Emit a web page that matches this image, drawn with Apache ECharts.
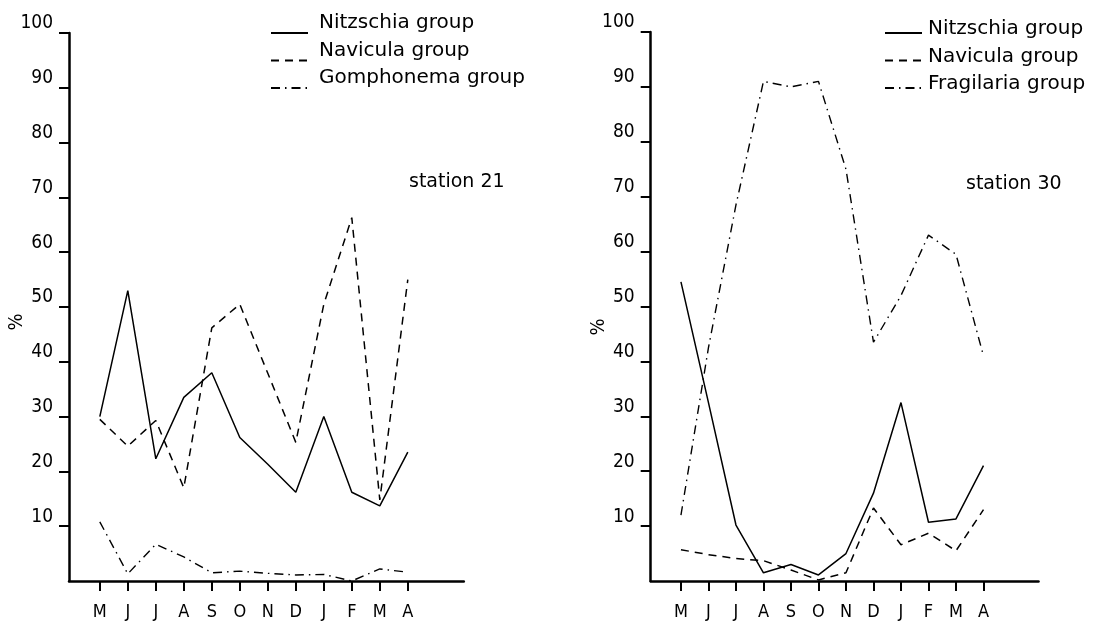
<!DOCTYPE html>
<html>
<head>
<meta charset="utf-8" />
<title>station 21 / station 30</title>
<script src="https://cdn.jsdelivr.net/npm/echarts@6/dist/echarts.min.js"></script>
<style>
  html, body { margin: 0; padding: 0; background: #fff; }
  #chart { width: 1108px; height: 621px; }
</style>
</head>
<body>
<div id="chart"></div>
<script>
// months May..April
var months = ['M', 'J', 'J', 'A', 'S', 'O', 'N', 'D', 'J', 'F', 'M', 'A'];
var monthIdx = [0, 1, 2, 3, 4, 5, 6, 7, 8, 9, 10, 11];
var yTicks = [10, 20, 30, 40, 50, 60, 70, 80, 90, 100];

// station 21
var st21Nitzschia = [30, 53, 22.3, 33.5, 38, 26.2, 21.3, 16.2, 30, 16.2, 13.7, 23.5];
var st21Navicula = [29.5, 24.6, 29.3, 17, 46.2, 50.5, 37.9, 25.3, 50.5, 66.3, 14.8, 55];
var st21Gomphonema = [10.8, 1.3, 6.7, 4.4, 1.5, 1.8, 1.4, 1.1, 1.2, 0, 2.2, 1.6];

// station 30
var st30Nitzschia = [54.5, 32.5, 10.2, 1.5, 3, 1.1, 5, 16, 32.5, 10.7, 11.3, 21];
var st30Navicula = [5.7, 4.8, 4.1, 3.7, 2, 0.2, 1.5, 13.3, 6.6, 8.7, 5.5, 13];
var st30Fragilaria = [12, 42.5, 68.5, 91, 90, 91, 75, 43.5, 52, 63, 59.5, 41];

var FONT = '"DejaVu Sans Condensed", "Liberation Sans Narrow", "DejaVu Sans", sans-serif';
var FONT_WIDE = '"DejaVu Sans", sans-serif';

function pairs(arr) {
	return arr.map(function (v, i) { return [monthIdx[i], v]; });
}

var solid = { color: '#000', width: 1.5, type: 'solid' };
var dashed = { color: '#000', width: 1.5, type: [8, 6] };
var dashDot = { color: '#000', width: 1.4, type: [9, 5, 1.5, 5] };

function xAxisFor(gridIndex) {
	return {
		type: 'value',
		gridIndex: gridIndex,
		min: -1.1,
		max: 13,
		splitLine: { show: false },
		axisLine: { show: true, lineStyle: { color: '#000', width: 2.5 } },
		axisTick: {
			show: true,
			customValues: monthIdx,
			length: 10,
			lineStyle: { color: '#000', width: 2 }
		},
		axisLabel: {
			customValues: monthIdx,
			formatter: function (v) { return months[Math.round(v)]; },
			margin: 22,
			color: '#000',
			fontFamily: FONT,
			fontSize: 18
		}
	};
}

function yAxisFor(gridIndex, margin) {
	return {
		type: 'value',
		gridIndex: gridIndex,
		min: 0,
		max: 100,
		interval: 10,
		splitLine: { show: false },
		axisLine: { show: true, onZero: false, lineStyle: { color: '#000', width: 2.5 } },
		axisTick: {
			show: true,
			customValues: yTicks,
			length: 10,
			lineStyle: { color: '#000', width: 2 }
		},
		axisLabel: {
			customValues: yTicks,
			margin: margin,
			verticalAlign: 'bottom',
			color: '#000',
			fontFamily: FONT,
			fontSize: 19
		}
	};
}

// lift = how far the text sits above its line sample
function legendFor(left, top, lift, textGap, names) {
	return {
		orient: 'vertical',
		left: left,
		top: top,
		padding: 0,
		itemWidth: 37,
		itemHeight: 14,
		itemGap: 7.5 - lift * 2,
		selectedMode: false,
		data: names,
		itemStyle: { opacity: 0 },
		formatter: function (name) { return '{t|' + name + '}'; },
		textStyle: {
			color: '#000',
			rich: {
				t: {
					color: '#000',
					fontFamily: FONT_WIDE,
					fontSize: 20,
					lineHeight: 20,
					padding: [0, 0, lift * 2, textGap]
				}
			}
		}
	};
}

function lineSeries(name, data, style, xi) {
	return {
		name: name,
		type: 'line',
		color: '#000',
		xAxisIndex: xi,
		yAxisIndex: xi,
		data: pairs(data),
		showSymbol: false,
		symbol: 'none',
		silent: true,
		lineStyle: style
	};
}

var chart = echarts.init(document.getElementById('chart'), null, { renderer: 'canvas' });
var option = {
	backgroundColor: '#fff',
	animation: false,
	title: [
		{ text: 'station 21', left: 404, top: 168, textStyle: { color: '#000', fontFamily: FONT_WIDE, fontSize: 19, fontWeight: 'normal' } },
		{ text: 'station 30', left: 961, top: 170, textStyle: { color: '#000', fontFamily: FONT_WIDE, fontSize: 19, fontWeight: 'normal' } }
	],
	legend: [
		legendFor(270, 13, 10, 6, ['Nitzschia group', 'Navicula group', 'Gomphonema group']),
		legendFor(884, 19, 4, 1, ['Nitzschia group', 'Navicula group', 'Fragilaria group'])
	],
	grid: [
		{ left: 69, width: 394.8, top: 33, bottom: 39 },
		{ left: 650.7, width: 387.8, top: 32, bottom: 38 }
	],
	xAxis: [xAxisFor(0), xAxisFor(1)],
	yAxis: [yAxisFor(0, 16), yAxisFor(1, 16)],
	graphic: [
		{ type: 'text', x: 17, y: 322, rotation: Math.PI / 2, style: { text: '%', fill: '#000', font: '20px ' + FONT, align: 'center', verticalAlign: 'middle' } },
		{ type: 'text', x: 599, y: 327, rotation: Math.PI / 2, style: { text: '%', fill: '#000', font: '20px ' + FONT, align: 'center', verticalAlign: 'middle' } }
	],
	series: [
		lineSeries('Nitzschia group', st21Nitzschia, solid, 0),
		lineSeries('Navicula group', st21Navicula, dashed, 0),
		lineSeries('Gomphonema group', st21Gomphonema, dashDot, 0),
		lineSeries('Nitzschia group', st30Nitzschia, solid, 1),
		lineSeries('Navicula group', st30Navicula, dashed, 1),
		lineSeries('Fragilaria group', st30Fragilaria, dashDot, 1)
	]
};
chart.setOption(option);
</script>
</body>
</html>
